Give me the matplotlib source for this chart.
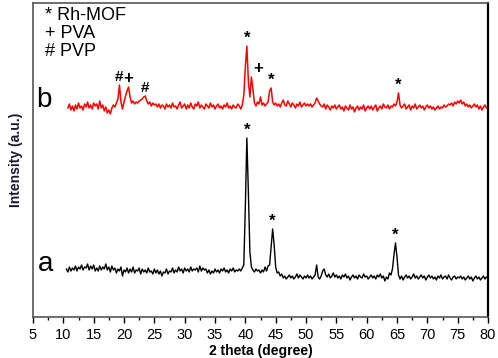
import numpy as np
import matplotlib
matplotlib.use("Agg")
import matplotlib.pyplot as plt

plt.rcParams['font.family'] = ['Liberation Sans', 'DejaVu Sans']

# 2 theta grid (degrees), sampled every 0.25
step = 0.25
start_a = 10.5
start_b = 10.75

# sample a (black), intensity in arbitrary units
int_a = [
    48, 45, 50, 46, 49, 47, 51, 46, 50, 48, 52, 47, 50, 49, 53, 47, 51, 48, 52, 46,
    49, 46, 51, 47, 50, 48, 53, 47, 50, 45, 51, 47, 49, 44, 48, 46, 50, 41, 47, 45,
    49, 44, 48, 45, 50, 44, 47, 46, 49, 43, 48, 45, 47, 44, 49, 45, 46, 43, 48, 44,
    47, 43, 46, 41, 45, 44, 48, 43, 46, 45, 49, 44, 47, 45, 50, 46, 48, 44, 49, 46,
    48, 45, 50, 46, 48, 47, 49, 45, 51, 46, 49, 47, 48, 44, 47, 43, 46, 44, 48, 45,
    47, 44, 48, 46, 49, 45, 47, 44, 48, 46, 49, 45, 47, 46, 48, 46, 49, 52, 110, 179,
    125, 65, 50, 47, 45, 48, 46, 47, 44, 47, 45, 50, 46, 51, 52, 70, 88, 72, 50, 44,
    45, 41, 43, 39, 41, 38, 40, 42, 39, 41, 38, 40, 43, 39, 42, 40, 38, 41, 39, 42,
    39, 41, 38, 40, 42, 52, 40, 38, 41, 46, 48, 42, 40, 43, 39, 41, 44, 40, 42, 39,
    41, 38, 42, 40, 43, 39, 41, 37, 40, 42, 39, 41, 38, 42, 40, 39, 43, 40, 41, 38,
    40, 42, 39, 41, 38, 42, 40, 43, 39, 41, 36, 40, 38, 44, 42, 48, 62, 74, 60, 42,
    38, 41, 37, 40, 42, 39, 41, 38, 40, 43, 39, 41, 38, 40, 42, 39, 41, 37, 40, 42,
    39, 41, 38, 40, 37, 41, 39, 42, 38, 40, 41, 38, 42, 39, 37, 40, 41, 38, 40, 39,
    41, 38, 40, 37, 39, 41, 38, 40, 36, 39, 41, 38, 40, 37, 39, 41, 38, 40, 39,
]

# sample b (red), same units
int_b = [
    209, 213, 207, 211, 206, 212, 208, 214, 209, 211, 207, 213, 210, 215, 209, 212, 208, 214, 211,
    213, 208, 216, 209, 212, 206, 210, 204, 207, 203, 209, 212, 210, 214, 218, 232, 215, 208, 215, 221,
    226, 230, 220, 214, 216, 213, 215, 214, 216, 217, 218, 220, 221, 216, 213, 215, 211, 214, 212, 213,
    210, 213, 209, 212, 211, 208, 213, 210, 212, 209, 214, 210, 211, 208, 212, 215, 209, 211, 213, 208,
    212, 209, 214, 210, 208, 213, 211, 215, 209, 212, 210, 208, 213, 211, 209, 214, 210, 212, 208, 211,
    213, 209, 211, 208, 212, 210, 214, 209, 211, 208, 212, 210, 209, 213, 211, 208, 212, 222, 250, 271,
    236, 220, 240, 228, 214, 211, 215, 213, 220, 212, 214, 211, 213, 215, 226, 229, 215, 212, 214, 211,
    213, 210, 214, 217, 212, 211, 216, 213, 210, 214, 212, 209, 213, 211, 215, 210, 212, 214, 211, 213,
    211, 213, 210, 212, 214, 219, 216, 213, 211, 210, 213, 208, 212, 210, 207, 211, 209, 212, 208, 210,
    212, 208, 210, 206, 211, 209, 207, 212, 208, 210, 205, 209, 211, 207, 210, 208, 212, 206, 209, 211,
    208, 211, 207, 210, 212, 206, 209, 211, 208, 213, 210, 209, 212, 208, 211, 210, 213, 211, 215, 224,
    212, 209, 211, 213, 208, 210, 212, 207, 211, 209, 213, 208, 210, 212, 209, 211, 207, 210, 212, 209,
    211, 208, 210, 207, 209, 211, 208, 210, 209, 212, 210, 211, 213, 212, 214, 211, 215, 213, 216, 214,
    217, 213, 215, 211, 213, 210, 212, 209, 211, 213, 210, 212, 208, 211, 207, 210, 212, 209, 210,
]

# peak labels: (2 theta, symbol)
peaks_a = [(40.25, '*'), (44.5, '*'), (64.75, '*')]
peaks_b = [(19.25, '#'), (20.75, '+'), (23.5, '#'), (40.25, '*'), (41.0, '+'), (44.25, '*'), (65.25, '*')]

legend_lines = ['* Rh-MOF', '+ PVA', '# PVP']

x_a = start_a + step * np.arange(len(int_a))
x_b = start_b + step * np.arange(len(int_b))

fig = plt.figure(figsize=(4.98, 3.58), dpi=100)
ax = fig.add_axes([33/498, 41/358, 455/498, 314/358])

ax.plot(x_a, int_a, color='black', lw=1.0)
ax.plot(x_b, int_b, color='#ff0000', lw=1.1)

ax.set_xlim(5, 80)
ax.set_ylim(0, 314)
ax.set_xticks(np.arange(5, 81, 5))
ax.set_xticks(np.arange(5, 81, 2.5), minor=True)
ax.set_yticks([])
ax.tick_params(axis='x', which='major', direction='out', length=4, width=1, pad=4, labelsize=10.5)
ax.tick_params(axis='x', which='minor', direction='out', length=2.5, width=1)
for side in ['left', 'top', 'bottom']:
    ax.spines[side].set_color('#555555')
    ax.spines[side].set_linewidth(1.2)
ax.spines['right'].set_color('black')
ax.spines['right'].set_linewidth(1.6)

ax.set_xlabel('2 theta (degree)', fontsize=10, fontweight='bold', labelpad=1)
ax.set_ylabel('Intensity (a.u.)', fontsize=10, fontweight='bold',
              family=['Liberation Sans Narrow', 'Liberation Sans'], color='#1a1a2e', labelpad=7)


def label_peaks(xs, ys, peaks, size_map):
    xs = np.asarray(xs)
    ys = np.asarray(ys)
    for px, sym in peaks:
        near = np.abs(xs - px) <= 0.3
        top = ys[near].max()
        dx = 5 if sym == '+' and px > 30 else 0
        ax.annotate(sym, (px, top), xytext=(dx, 0.5), textcoords='offset points',
                    ha='center', va='bottom', fontsize=size_map[sym], fontweight='bold')


sizes = {'*': 12, '+': 12, '#': 11}
label_peaks(x_a, int_a, peaks_a, sizes)
label_peaks(x_b, int_b, peaks_b, sizes)

ax.text(7.0, 53, 'a', fontsize=20, ha='center', va='center')
ax.text(6.8, 217, 'b', fontsize=20, ha='center', va='center')

for i, s in enumerate(legend_lines):
    ax.text(0.026, 0.96 - i * 0.057, s, transform=ax.transAxes, fontsize=13,
            ha='left', va='center')

fig.savefig('out.png', dpi=100)
